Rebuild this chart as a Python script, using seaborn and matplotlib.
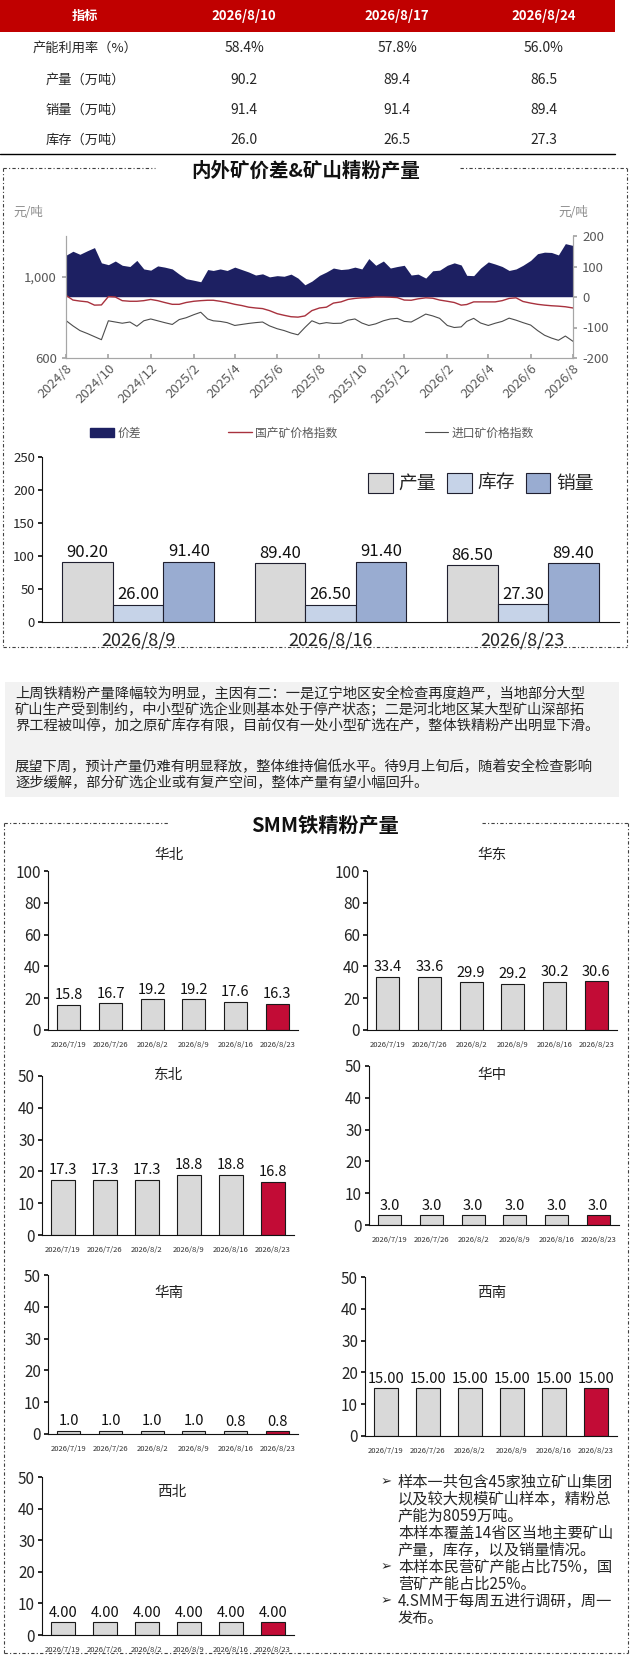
import pandas as pd
import matplotlib
matplotlib.use('Agg')
from matplotlib import pyplot as plt
import matplotlib.dates as mdates
from matplotlib.patches import Rectangle, Patch
from matplotlib.lines import Line2D
from matplotlib.ticker import FuncFormatter
import seaborn as sns

sns.set_theme(style='white')
plt.rcParams['font.family'] = ['Noto Sans CJK SC', 'DejaVu Sans']
plt.rcParams['axes.unicode_minus'] = False

# ---- data ----
table_cols = ['指标', '2026/8/10', '2026/8/17', '2026/8/24']
table_rows = ['产能利用率（%）', '产量（万吨）', '销量（万吨）', '库存（万吨）']
table_vals = [['58.4%', '57.8%', '56.0%'],
              ['90.2', '89.4', '86.5'],
              ['91.4', '91.4', '89.4'],
              ['26.0', '26.5', '27.3']]

# price spread (right axis, 元/吨), sampled on the 1st/11th/21st of each month
spread = [137, 150, 140, 152, 162, 112, 106, 118, 104, 100, 120, 92, 88, 102, 98, 92, 75, 60,
          55, 50, 90, 87, 92, 87, 98, 90, 82, 72, 76, 66, 70, 68, 75, 62, 40, 52, 71,
          82, 95, 90, 92, 98, 92, 126, 104, 118, 95, 100, 104, 72, 75, 62, 86, 88, 104,
          112, 105, 71, 70, 95, 115, 108, 100, 87, 92, 104, 120, 142, 147, 146, 138, 175, 169]
domestic = [908, 885, 880, 876, 860, 861, 902, 900, 882, 879, 879, 882, 888, 882, 873, 864,
            864, 873, 879, 882, 884, 884, 879, 873, 864, 858, 850, 846, 843, 833, 818, 810,
            803, 801, 807, 833, 846, 850, 870, 876, 888, 893, 896, 897, 900, 900, 899, 897,
            885, 884, 891, 896, 894, 885, 879, 873, 860, 863, 876, 876, 876, 876, 882, 893,
            896, 878, 870, 864, 860, 857, 855, 852, 846]
imported = [784, 758, 735, 720, 705, 690, 783, 777, 771, 777, 756, 783, 792, 783, 774, 765,
            789, 798, 813, 825, 792, 783, 780, 774, 760, 765, 770, 774, 777, 758, 744, 735,
            723, 714, 750, 783, 768, 774, 770, 771, 786, 792, 772, 760, 768, 783, 792, 795,
            780, 777, 795, 816, 807, 795, 760, 750, 753, 780, 795, 772, 760, 771, 780, 796,
            786, 774, 762, 735, 712, 698, 687, 708, 682]
months = pd.period_range('2024-08', '2026-08', freq='M')
price_dates = [pd.Timestamp(p.year, p.month, d) for p in months for d in (1, 11, 21)][:len(spread)]

bar_weeks = ['2026/8/9', '2026/8/16', '2026/8/23']
output = [90.20, 89.40, 86.50]
stock = [26.00, 26.50, 27.30]
sales = [91.40, 91.40, 89.40]

region_dates = ['2026/7/19', '2026/7/26', '2026/8/2', '2026/8/9', '2026/8/16', '2026/8/23']
huabei = [15.8, 16.7, 19.2, 19.2, 17.6, 16.3]
huadong = [33.4, 33.6, 29.9, 29.2, 30.2, 30.6]
dongbei = [17.3, 17.3, 17.3, 18.8, 18.8, 16.8]
huazhong = [3.0, 3.0, 3.0, 3.0, 3.0, 3.0]
huanan = [1.0, 1.0, 1.0, 1.0, 0.8, 0.8]
xinan = [15.00, 15.00, 15.00, 15.00, 15.00, 15.00]
xibei = [4.00, 4.00, 4.00, 4.00, 4.00, 4.00]

para1 = ['上周铁精粉产量降幅较为明显，主因有二：一是辽宁地区安全检查再度趋严，当地部分大型',
         '矿山生产受到制约，中小型矿选企业则基本处于停产状态；二是河北地区某大型矿山深部拓',
         '界工程被叫停，加之原矿库存有限，目前仅有一处小型矿选在产，整体铁精粉产出明显下滑。']
para2 = ['展望下周，预计产量仍难有明显释放，整体维持偏低水平。待9月上旬后，随着安全检查影响',
         '逐步缓解，部分矿选企业或有复产空间，整体产量有望小幅回升。']
notes = [('➢', '样本一共包含45家独立矿山集团'),
         ('', '以及较大规模矿山样本，精粉总'),
         ('', '产能为8059万吨。'),
         ('', '本样本覆盖14省区当地主要矿山'),
         ('', '产量，库存，以及销量情况。'),
         ('➢', '本样本民营矿产能占比75%，国'),
         ('', '营矿产能占比25%。'),
         ('➢', '4.SMM于每周五进行调研，周一'),
         ('', '发布。')]

# ---- style ----
NAVY = '#1d2062'
LINE_RED = '#a8323e'
GRAY_LINE = '#4d4d4d'
BAR_GRAY = '#d9d9d9'
CRIMSON = '#c20c36'
HEAD_RED = '#c00000'
TXT = '#262626'

W, H = 632, 1664
fig = plt.figure(figsize=(W / 100, H / 100), dpi=100)


def rect(x0, y0, x1, y1):
    return [x0 / W, 1 - y1 / H, (x1 - x0) / W, (y1 - y0) / H]


# overlay for table, frames and free text
ov = fig.add_axes([0, 0, 1, 1])
ov.set_xlim(0, W)
ov.set_ylim(H, 0)
ov.axis('off')

ov.add_patch(Rectangle((0, 0), 615, 32, color=HEAD_RED, lw=0))
col_x = [85, 244, 397, 544]
for x, c in zip(col_x, table_cols):
    ov.text(x, 16, c, color='white', fontsize=9.5, fontweight='bold', ha='center', va='center')
for i, (r, vals) in enumerate(zip(table_rows, table_vals)):
    y = [48, 80, 110, 140][i]
    ov.text(col_x[0], y, r, color=TXT, fontsize=9.5, ha='center', va='center')
    for x, v in zip(col_x[1:], vals):
        ov.text(x, y, v, color=TXT, fontsize=10, ha='center', va='center')
ov.plot([0, 615], [154, 154], color='black', lw=1)


def dashed_box(x0, y0, x1, y1, g0, g1):
    ls = (0, (3, 2, 1, 2))
    kw = dict(color='#404040', lw=0.8, linestyle=ls)
    ov.plot([x0, x0], [y0, y1], **kw)
    ov.plot([x1, x1], [y0, y1], **kw)
    ov.plot([x0, x1], [y1, y1], **kw)
    ov.plot([x0, g0], [y0, y0], **kw)
    ov.plot([g1, x1], [y0, y0], **kw)


dashed_box(3, 168, 627, 647, 155, 460)
ov.text(306, 171, '内外矿价差&矿山精粉产量', fontsize=14, fontweight='bold', ha='center', va='center', color='#111111')
dashed_box(4, 823, 628, 1653, 169, 482)
ov.text(325, 825, 'SMM铁精粉产量', fontsize=14.5, fontweight='bold', ha='center', va='center', color='#111111')

ov.text(28, 213, '元/吨', fontsize=9, color='#8c8c8c', ha='center', va='center', style='italic')
ov.text(573, 213, '元/吨', fontsize=9, color='#8c8c8c', ha='center', va='center', style='italic')

ov.add_patch(Rectangle((5, 682), 614, 115, color='#f2f2f2', lw=0))
for i, t in enumerate(para1):
    ov.text(15, 694 + i * 16, t, fontsize=10.3, color=TXT, va='center')
for i, t in enumerate(para2):
    ov.text(15, 767 + i * 16, t, fontsize=10.3, color=TXT, va='center')

for i, (b, t) in enumerate(notes):
    y = 1482 + i * 17
    if b:
        ov.text(386, y, b, fontsize=9.5, color=TXT, va='center', ha='center', family=['DejaVu Sans'])
    ov.text(398, y, t, fontsize=11, color=TXT, va='center')

# ---- price spread chart ----
df_price = pd.DataFrame({'date': price_dates, 'spread': spread,
                         'domestic': domestic, 'imported': imported})
ax = fig.add_axes(rect(66, 236, 573, 358))
ax2 = ax.twinx()
ax2.fill_between(df_price['date'], 0, df_price['spread'], color=NAVY, lw=0)
ax2.axhline(0, color='#d9d9e6', lw=0.6)
ax2.set_ylim(-200, 200)
ax2.set_yticks([-200, -100, 0, 100, 200])
sns.lineplot(data=df_price, x='date', y='domestic', ax=ax, color=LINE_RED, lw=1.0)
sns.lineplot(data=df_price, x='date', y='imported', ax=ax, color=GRAY_LINE, lw=0.8)
ax.set_ylim(600, 1200)
ax.set_yticks([600, 1000])
ax.yaxis.set_major_formatter(FuncFormatter(lambda v, p: f'{v:,.0f}'))
ax.set_xlim(pd.Timestamp('2024-08-01'), pd.Timestamp('2026-08-01'))
ax.xaxis.set_major_locator(mdates.MonthLocator(bymonth=[2, 4, 6, 8, 10, 12]))
ax.xaxis.set_major_formatter(FuncFormatter(
    lambda v, p: f'{mdates.num2date(v).year}/{mdates.num2date(v).month}'))
ax.set_xlabel('')
ax.set_ylabel('')
ax.set_zorder(ax2.get_zorder() + 1)
ax.patch.set_visible(False)
for a in (ax, ax2):
    a.spines['top'].set_visible(False)
    for s in ('left', 'right', 'bottom'):
        a.spines[s].set_color('#a6a6a6')
        a.spines[s].set_linewidth(0.8)
ax.tick_params(axis='x', bottom=True, direction='in', length=3, color='#a6a6a6',
               labelsize=9.5, labelcolor='#595959', pad=3)
ax.tick_params(axis='y', left=True, length=3, color='#a6a6a6', labelsize=9.5, labelcolor='#595959')
ax2.tick_params(axis='y', right=True, length=3, color='#a6a6a6', labelsize=9.5, labelcolor='#595959')
for lab in ax.get_xticklabels():
    lab.set_rotation(45)
    lab.set_ha('right')
    lab.set_rotation_mode('anchor')

handles = [Patch(color=NAVY), Line2D([], [], color=LINE_RED, lw=1), Line2D([], [], color=GRAY_LINE, lw=0.8)]
leg = fig.legend(handles, ['价差', '国产矿价格指数', '进口矿价格指数'], loc='center',
                 bbox_to_anchor=(312 / W, 1 - 433 / H), ncol=3, frameon=False, fontsize=8.5,
                 columnspacing=7.4, handlelength=2.0, handletextpad=0.3)
for t in leg.get_texts():
    t.set_color('#595959')

# ---- weekly output / stock / sales ----
df_bar = pd.DataFrame({'week': bar_weeks * 3,
                       'metric': ['产量'] * 3 + ['库存'] * 3 + ['销量'] * 3,
                       'value': output + stock + sales})
bar_colors = ['#d9d9d9', '#c6d3e8', '#99acd1']
axb = fig.add_axes(rect(42, 457, 619, 622))
sns.barplot(data=df_bar, x='week', y='value', hue='metric', palette=bar_colors, saturation=1,
            edgecolor='#1f1f2f', linewidth=0.8, width=0.79, legend=False, ax=axb)
for c in axb.containers:
    axb.bar_label(c, fmt='%.2f', fontsize=12, padding=1, color='#111111')
axb.set_ylim(0, 250)
axb.set_yticks(range(0, 251, 50))
axb.set_xlabel('')
axb.set_ylabel('')
axb.patch.set_visible(False)
for s in ('top', 'right'):
    axb.spines[s].set_visible(False)
for s in ('left', 'bottom'):
    axb.spines[s].set_color('#111111')
    axb.spines[s].set_linewidth(0.8)
axb.tick_params(axis='y', left=True, length=3, color='#111111', labelsize=9.5, pad=2)
axb.tick_params(axis='x', labelsize=13, pad=1)
bh = [Patch(facecolor=c, edgecolor='#1f1f2f', lw=0.8) for c in bar_colors]
axb.legend(bh, ['产量', '库存', '销量'], ncol=3, loc='center right', bbox_to_anchor=(0.985, 0.84),
           frameon=False, fontsize=13.5, handlelength=1.3, handleheight=1.3,
           handletextpad=0.3, columnspacing=0.6)


# ---- regional panels ----
def region_plot(box, vals, ymax, fmt, title, tpos):
    a = fig.add_axes(rect(*box))
    df = pd.DataFrame({'date': region_dates, 'value': vals})
    sns.barplot(data=df, x='date', y='value', hue='date', palette=[BAR_GRAY] * 5 + [CRIMSON],
                saturation=1, edgecolor='#1a1a1a', linewidth=0.8, width=0.55, legend=False, ax=a)
    for c in a.containers:
        a.bar_label(c, fmt=fmt, fontsize=10.5, padding=2, color='#111111')
    a.set_ylim(0, ymax)
    a.set_yticks(range(0, ymax + 1, ymax // 5))
    a.set_xlabel('')
    a.set_ylabel('')
    a.patch.set_visible(False)
    for s in ('top', 'right'):
        a.spines[s].set_visible(False)
    for s in ('left', 'bottom'):
        a.spines[s].set_color('#111111')
        a.spines[s].set_linewidth(0.8)
    a.tick_params(axis='y', left=True, length=3, color='#111111', labelsize=11, pad=2)
    a.tick_params(axis='x', labelsize=5.5, pad=2, labelcolor='#333333')
    ov.text(tpos[0], tpos[1], title, fontsize=10.5, ha='center', va='center', color='#222222')


region_plot((48, 871, 298, 1030), huabei, 100, '%.1f', '华北', (169, 855))
region_plot((367, 871, 617, 1030), huadong, 100, '%.1f', '华东', (492, 855))
region_plot((42, 1076, 294, 1235), dongbei, 50, '%.1f', '东北', (169, 1075))
region_plot((369, 1066, 619, 1225), huazhong, 50, '%.1f', '华中', (492, 1075))
region_plot((48, 1275, 298, 1434), huanan, 50, '%.1f', '华南', (169, 1293))
region_plot((365, 1277, 617, 1436), xinan, 50, '%.2f', '西南', (492, 1293))
region_plot((42, 1477, 294, 1635), xibei, 50, '%.2f', '西北', (172, 1492))

fig.savefig('out.png', dpi=100)
